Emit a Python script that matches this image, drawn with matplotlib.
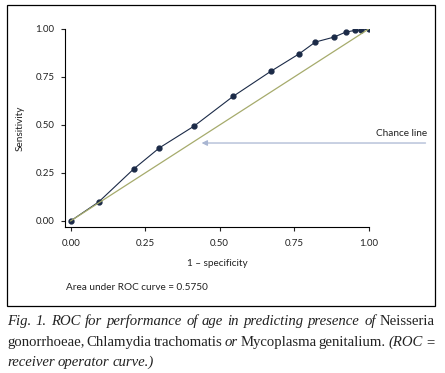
import matplotlib.pyplot as plt
from matplotlib.patches import Rectangle

# ROC points
fpr = [0.0, 0.094, 0.211, 0.298, 0.414, 0.545, 0.671, 0.767, 0.821, 0.884, 0.923, 0.955, 0.975, 1.0]
tpr = [0.0, 0.099, 0.270, 0.381, 0.494, 0.649, 0.779, 0.871, 0.932, 0.958, 0.984, 0.993, 0.993, 1.0]
chance = [0.0, 1.0]
ticks = [0.0, 0.25, 0.5, 0.75, 1.0]
tick_labels = ['0.00', '0.25', '0.50', '0.75', '1.00']
auc_text = 'Area under ROC curve = 0.5750'

caption = [
    [('Fig. 1. ROC for performance of age in predicting presence of', 'italic'), ('Neisseria', 'normal')],
    [('gonorrhoeae, Chlamydia trachomatis', 'normal'), ('or', 'italic'),
     ('Mycoplasma genitalium.', 'normal'), ('(ROC =', 'italic')],
    [('receiver operator curve.)', 'italic')],
]

W, H = 445, 373
navy = '#1b2a47'
olive = '#a6ab6c'
arrow_col = '#a9b6d2'
sans = ['Lato', 'DejaVu Sans']
serif = ['Liberation Serif', 'DejaVu Serif']

fig = plt.figure(figsize=(W / 100, H / 100), dpi=100)
ax = fig.add_axes([65 / W, 146.3 / H, 303.7 / W, 197.7 / H])

ax.plot(fpr, tpr, color=navy, lw=0.8, marker='o', ms=3.5, zorder=2)
ax.plot(chance, chance, color=olive, lw=0.9, zorder=3)

ax.set_xlim(-0.019, 1.0)
ax.set_ylim(-0.03, 1.0)
ax.set_xticks(ticks)
ax.set_xticklabels(tick_labels)
ax.set_yticks(ticks)
ax.set_yticklabels(tick_labels)
ax.tick_params(length=3, width=0.8, labelsize=7, colors='#222222')
ax.tick_params(axis='x', pad=5.5)
ax.tick_params(axis='y', pad=4.5)
for lab in ax.get_xticklabels() + ax.get_yticklabels():
    lab.set_family(sans)
for s in ['top', 'right']:
    ax.spines[s].set_visible(False)
for s in ['left', 'bottom']:
    ax.spines[s].set_linewidth(0.8)

ax.set_ylabel('Sensitivity', family=sans, fontsize=7.2, color='#222222', va='center')
ax.yaxis.set_label_coords((20 - 65) / 303.7, 0.5)
ax.set_xlabel('1 \u2013 specificity', family=sans, fontsize=7.2, color='#222222', va='center')
ax.xaxis.set_label_coords((217 - 65) / 303.7, ((373 - 263) - 146.3) / 197.7)

ax.annotate('', xy=(0.43, 0.406), xytext=(1.20, 0.406),
            arrowprops=dict(arrowstyle='-|>', color=arrow_col, lw=0.9, mutation_scale=8),
            annotation_clip=False)
fig.text(427 / W, 1 - 133 / H, 'Chance line', family=sans, fontsize=7.2,
         ha='right', va='center', color='#222222')
fig.text(66 / W, 1 - 287 / H, auc_text, family=sans, fontsize=7.2,
         ha='left', va='center', color='#222222')

fig.add_artist(Rectangle((6.5 / W, 1 - 306 / H), 428 / W, 301 / H, transform=fig.transFigure,
                         fill=False, ec='black', lw=0.9))

# caption: justified lines with mixed italic / upright pieces
fig.canvas.draw()
renderer = fig.canvas.get_renderer()
x0, x1 = 7, 435
line_y = [321.5, 342.5, 362.5]
for i, parts in enumerate(caption):
    words = []
    for txt, style in parts:
        for w in txt.split(' '):
            words.append((w, style))
    arts = []
    widths = []
    for w, style in words:
        t = fig.text(0, 1 - line_y[i] / H, w, family=serif, style=style, fontsize=10.6,
                     ha='left', va='center', color='#222222')
        arts.append(t)
        widths.append(t.get_window_extent(renderer).width)
    if i < len(caption) - 1:
        gap = (x1 - x0 - sum(widths)) / (len(words) - 1)
    else:
        gap = 3.0
    x = x0
    for t, wd in zip(arts, widths):
        t.set_x(x / W)
        x += wd + gap

fig.savefig('out.png', dpi=100)
